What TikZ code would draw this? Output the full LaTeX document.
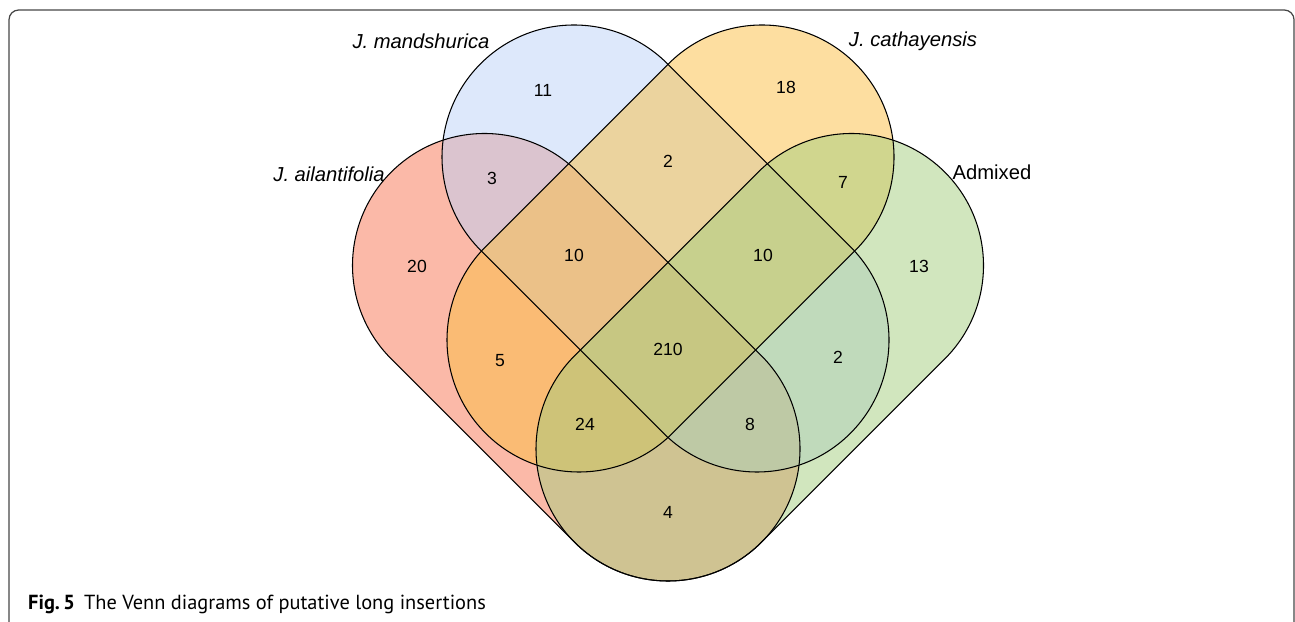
\documentclass[tikz,border=0pt]{standalone}
\usepackage{fontspec}
\setmainfont{Liberation Sans}
\newfontfamily\capfont{PT Sans}
\usepackage{tikz}
\usetikzlibrary{calc}
\definecolor{setred}{RGB}{247,115,81}
\definecolor{setblue}{RGB}{187,209,247}
\definecolor{setyellow}{RGB}{251,190,66}
\definecolor{setgreen}{RGB}{163,205,125}
\definecolor{framegray}{RGB}{70,70,70}

% outlines of the four sets (cap centres, pixel units)
\newcommand{\redset}{($(484.5,356.5)+(45:132)$) -- ($(668,173)+(45:132)$)
  arc[start angle=45,end angle=-135,radius=132] -- ($(484.5,356.5)+(225:132)$)
  arc[start angle=225,end angle=45,radius=132] -- cycle}
\newcommand{\blueset}{($(574,465)+(45:132)$) -- ($(757,282)+(45:132)$)
  arc[start angle=45,end angle=-135,radius=132] -- ($(574,465)+(225:132)$)
  arc[start angle=225,end angle=45,radius=132] -- cycle}
\newcommand{\yellowset}{($(762,465)+(135:132)$) -- ($(579,282)+(135:132)$)
  arc[start angle=135,end angle=315,radius=132] -- ($(762,465)+(-45:132)$)
  arc[start angle=-45,end angle=135,radius=132] -- cycle}
\newcommand{\greenset}{($(851.5,356.5)+(135:132)$) -- ($(668,173)+(135:132)$)
  arc[start angle=135,end angle=315,radius=132] -- ($(851.5,356.5)+(-45:132)$)
  arc[start angle=-45,end angle=135,radius=132] -- cycle}

\begin{document}
\begin{tikzpicture}[x=0.02cm,y=0.02cm,
    lab/.style={font=\fontsize{11.5}{13}\selectfont},
    num/.style={font=\fontsize{10}{12}\selectfont}]
  \useasboundingbox (0,0) rectangle (1295,622);
  \clip (0,0) rectangle (1295,622);

  % Frame
  \draw[framegray, line width=0.7pt, rounded corners=5.5pt] (9,-40) rectangle (1294,612);

  % Set fills
  \fill[setred, fill opacity=0.5] \redset;
  \fill[setblue, fill opacity=0.5] \blueset;
  \fill[setyellow, fill opacity=0.5] \yellowset;
  \fill[setgreen, fill opacity=0.5] \greenset;

  % Set outlines
  \draw[line width=0.6pt] \redset;
  \draw[line width=0.6pt] \blueset;
  \draw[line width=0.6pt] \yellowset;
  \draw[line width=0.6pt] \greenset;

  % Set names
  \node[lab] (mand) at (421,581) {\textit{J. mandshurica}};
  \node[lab] (cath) at (913,581) {\textit{J. cathayensis}};
  \node[lab] (ailan) at (329,448) {\textit{J. ailantifolia}};
  \node[lab] (admix) at (992,450) {Admixed};

  % Counts
  \node[num] (nb) at (543,532) {11};
  \node[num] (nc) at (786,535) {18};
  \node[num] (nbc) at (668,461) {2};
  \node[num] (nab) at (492,444) {3};
  \node[num] (ncd) at (843,440) {7};
  \node[num] (na) at (417,356) {20};
  \node[num] (nabc) at (574,367) {10};
  \node[num] (nbcd) at (763,367) {10};
  \node[num] (nd) at (919,356) {13};
  \node[num] (nall) at (668,273) {210};
  \node[num] (nac) at (500,261) {5};
  \node[num] (nbd) at (838,265) {2};
  \node[num] (nacd) at (585,198) {24};
  \node[num] (nabd) at (750,198) {8};
  \node[num] (nad) at (668,110) {4};

  % Caption
  \node[anchor=base west, font=\capfont\fontsize{11.6}{13}\selectfont] (cap) at (22,12)
    {\textbf{Fig.\,5}\hspace{0.45em}The Venn diagrams of putative long insertions};
\end{tikzpicture}
\end{document}
